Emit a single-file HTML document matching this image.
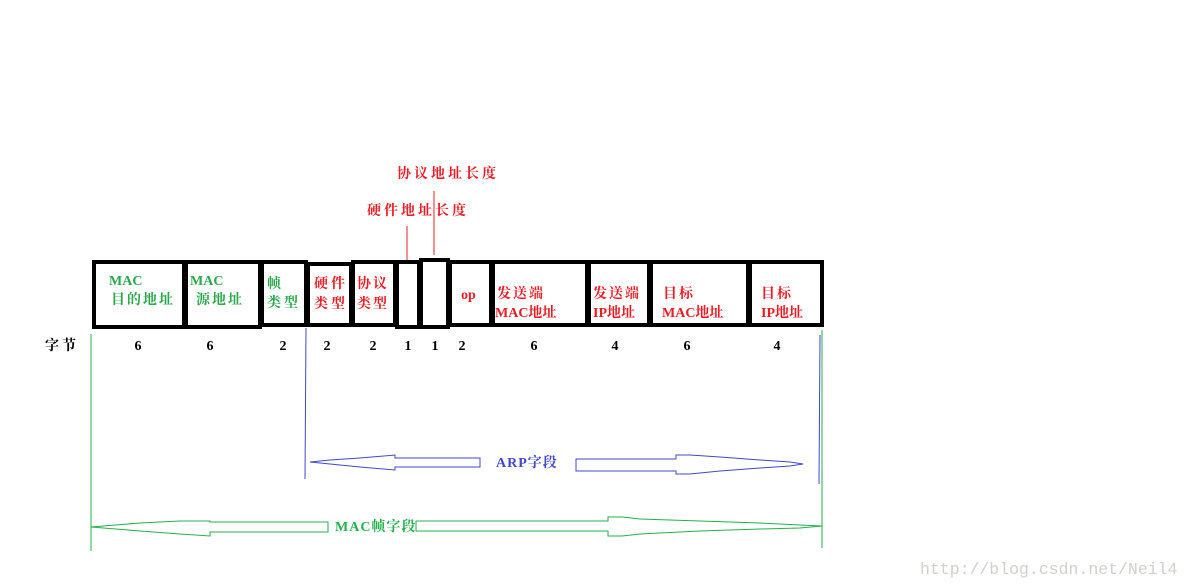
<!DOCTYPE html>
<html><head><meta charset="utf-8"><style>
html,body{margin:0;padding:0;background:#fff;}
svg{display:block;}
text{font-family:"Liberation Serif","Noto Serif CJK SC",serif;font-weight:bold;font-size:14px;}
text.wm{font-family:"Liberation Mono",monospace;font-weight:normal;font-size:16.5px;}
</style></head><body>
<svg width="1190" height="587" viewBox="0 0 1190 587" xmlns="http://www.w3.org/2000/svg">
<rect width="1190" height="587" fill="#fff"/>
<line x1="407" y1="226" x2="407" y2="260" stroke="#ed1c24" stroke-width="1"/>
<line x1="434" y1="191" x2="434" y2="255" stroke="#ed1c24" stroke-width="1"/>
<text x="397" y="178" fill="#ed1c24" font-size="15" letter-spacing="3">协议地址长度</text>
<text x="367" y="215" fill="#ed1c24" font-size="15" letter-spacing="3">硬件地址长度</text>
<g fill="none" stroke="#000" stroke-width="4">
<rect x="94" y="262" width="90" height="65"/>
<rect x="186" y="262" width="74" height="65"/>
<rect x="262" y="262" width="44" height="63"/>
<rect x="308" y="264" width="43" height="61"/>
<rect x="353" y="262" width="42" height="63"/>
<rect x="397" y="262" width="22" height="65"/>
<rect x="421" y="260" width="27" height="67"/>
<rect x="450" y="262" width="41" height="63"/>
<rect x="493" y="262" width="94" height="63"/>
<rect x="589" y="262" width="60" height="63"/>
<rect x="651" y="262" width="97" height="63"/>
<rect x="750" y="262" width="72" height="63"/>
</g>
<g fill="#2aa84a">
<text x="109" y="285">MAC</text>
<text x="111" y="304" letter-spacing="2">目的地址</text>
<text x="190" y="285">MAC</text>
<text x="196" y="304" letter-spacing="2">源地址</text>
<text x="267" y="288">帧</text>
<text x="267" y="307" letter-spacing="3">类型</text>
</g>
<g fill="#ed1c24">
<text x="314" y="288" letter-spacing="3">硬件</text>
<text x="314" y="308" letter-spacing="3">类型</text>
<text x="357" y="288" letter-spacing="2">协议</text>
<text x="357" y="308" letter-spacing="2">类型</text>
<text x="461" y="299" font-size="13">op</text>
<text x="497" y="298" letter-spacing="2">发送端</text>
<text x="495" y="317">MAC地址</text>
<text x="593" y="298" letter-spacing="2">发送端</text>
<text x="593" y="317">IP地址</text>
<text x="663" y="298" letter-spacing="2">目标</text>
<text x="662" y="317">MAC地址</text>
<text x="761" y="298" letter-spacing="2">目标</text>
<text x="761" y="317">IP地址</text>
</g>
<g fill="#000" text-anchor="middle">
<text x="62" y="350" letter-spacing="3">字节</text>
<text x="138" y="350">6</text>
<text x="210" y="350">6</text>
<text x="283" y="350">2</text>
<text x="327" y="350">2</text>
<text x="373" y="350">2</text>
<text x="408" y="350">1</text>
<text x="435" y="350">1</text>
<text x="462" y="350">2</text>
<text x="534" y="350">6</text>
<text x="615" y="350">4</text>
<text x="687" y="350">6</text>
<text x="777" y="350">4</text>
</g>
<line x1="306" y1="328" x2="305" y2="479" stroke="#3f48cc" stroke-width="1"/>
<line x1="820" y1="335" x2="819" y2="484" stroke="#3f48cc" stroke-width="1"/>
<polygon points="310,462 330,460 360,458 395,455 395,455 395,458 480,458 480,467 395,467 395,470 360,467 330,464" fill="none" stroke="#3f48cc" stroke-width="1"/>
<polygon points="576,459 676,459 676,455 690,455 720,457 760,460 790,462 803,464 790,466 760,468 720,471 690,474 676,474 676,471 576,471" fill="none" stroke="#3f48cc" stroke-width="1"/>
<text x="496" y="467" fill="#3f48cc" letter-spacing="1">ARP字段</text>
<line x1="91" y1="334" x2="91" y2="551" stroke="#22b14c" stroke-width="1"/>
<line x1="822" y1="330" x2="822" y2="548" stroke="#22b14c" stroke-width="1"/>
<polygon points="91,527 140,523 180,521 210,521 210,522 328,522 328,532 210,532 210,536 180,534 140,531" fill="none" stroke="#22b14c" stroke-width="1"/>
<polygon points="416,521 608,521 608,517 622,517 640,519 700,521 760,523 800,525 822,526 800,528 760,529 700,531 640,534 622,536 608,536 608,531 416,531" fill="none" stroke="#22b14c" stroke-width="1"/>
<text x="335" y="531" fill="#22b14c" letter-spacing="1">MAC帧字段</text>
<text class="wm" x="920" y="574" fill="#d0d0cc">http://blog.csdn.net/Neil4</text>
</svg>
</body></html>
